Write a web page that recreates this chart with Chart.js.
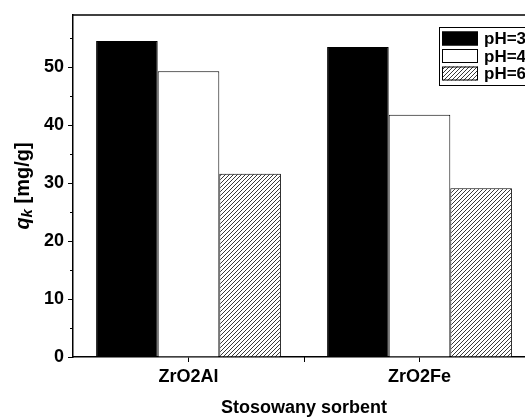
<!DOCTYPE html>
<html>
<head>
<meta charset="utf-8">
<script src="https://cdn.jsdelivr.net/npm/chart.js@4"></script>
<style>
  html, body { margin: 0; padding: 0; background: #fff; overflow: hidden; }
  #wrap { width: 540px; height: 419px; }
</style>
</head>
<body>
<div id="wrap"><canvas id="chart" width="540" height="419"></canvas></div>
<script>
// Données du graphique
const categories = ["ZrO2Al", "ZrO2Fe"];
const seriesLabels = ["pH=3", "pH=4", "pH=6"];
const valuesPh3 = [54.5, 53.5];
const valuesPh4 = [49.3, 41.8];
const valuesPh6 = [31.6, 29.1];
const yMajorTicks = [0, 10, 20, 30, 40, 50];
const yMinorTicks = [5, 15, 25, 35, 45, 55];

const FONT = "'Liberation Sans', Arial, sans-serif";

// Motif hachuré pour pH=6
function makeHatch() {
    const c = document.createElement("canvas");
    c.width = 4;
    c.height = 4;
    const g = c.getContext("2d");
    g.fillStyle = "#fff";
    g.fillRect(0, 0, 4, 4);
    g.strokeStyle = "#222";
    g.lineWidth = 0.9;
    g.beginPath();
    g.moveTo(-1, 5); g.lineTo(5, -1);
    g.moveTo(-1, 1); g.lineTo(1, -1);
    g.moveTo(3, 5); g.lineTo(5, 3);
    g.stroke();
    return g.createPattern(c, "repeat");
}
const hatch = makeHatch();

// Cadre, petites graduations, titre de l'axe Y et légende
const extras = {
    id: "extras",
    afterDraw(chart) {
        const ctx = chart.ctx;
        const area = chart.chartArea;
        const x = chart.scales.x;
        const y = chart.scales.y;
        ctx.save();
        ctx.strokeStyle = "#000";
        ctx.lineWidth = 1.5;
        // ligne du haut
        ctx.beginPath();
        ctx.moveTo(area.left, area.top);
        ctx.lineTo(area.right, area.top);
        ctx.stroke();
        // petites graduations Y
        ctx.lineWidth = 1;
        yMinorTicks.forEach(v => {
            const py = Math.round(y.getPixelForValue(v)) + 0.5;
            ctx.beginPath();
            ctx.moveTo(area.left - 3, py);
            ctx.lineTo(area.left, py);
            ctx.stroke();
        });
        // graduation entre les catégories
        for (let i = 0; i < categories.length - 1; i++) {
            const px = Math.round(x.getPixelForValue(i + 0.5)) + 0.5;
            ctx.beginPath();
            ctx.moveTo(px, area.bottom);
            ctx.lineTo(px, area.bottom + 5);
            ctx.stroke();
        }
        // titre Y : q_k [mg/g]
        ctx.translate(23, (area.top + area.bottom) / 2);
        ctx.rotate(-Math.PI / 2);
        ctx.fillStyle = "#000";
        ctx.textBaseline = "middle";
        const fq = "italic bold 20px " + FONT;
        const fk = "italic bold 15px " + FONT;
        const fr = "bold 20px " + FONT;
        ctx.font = fq; const wq = ctx.measureText("q").width;
        ctx.font = fk; const wk = ctx.measureText("k").width;
        ctx.font = fr; const wr = ctx.measureText(" [mg/g]").width;
        let tx = -(wq + wk + wr) / 2;
        ctx.font = fq; ctx.fillText("q", tx, 0); tx += wq;
        ctx.font = fk; ctx.fillText("k", tx, 5); tx += wk;
        ctx.font = fr; ctx.fillText(" [mg/g]", tx, 0);
        ctx.restore();

        // légende
        ctx.save();
        const lx = 439, ly = 27, lh = 58;
        ctx.fillStyle = "#fff";
        ctx.fillRect(lx, ly, 200, lh);
        ctx.strokeStyle = "#000";
        ctx.lineWidth = 1;
        ctx.strokeRect(lx + 0.5, ly + 0.5, 200, lh);
        chart.data.datasets.forEach((ds, i) => {
            const cy = ly + 11.5 + i * 17.5;
            ctx.fillStyle = ds.backgroundColor;
            ctx.fillRect(442, cy - 7, 36, 14);
            ctx.strokeStyle = "#000";
            ctx.strokeRect(442.5, cy - 6.5, 35, 13);
            ctx.fillStyle = "#000";
            ctx.font = "bold 17px " + FONT;
            ctx.textBaseline = "middle";
            ctx.fillText(ds.label, 484, cy + 1);
        });
        ctx.restore();
    }
};

const ctx = document.getElementById("chart").getContext("2d");
new Chart(ctx, {
    type: "bar",
    data: {
        labels: categories,
        datasets: [
            { label: seriesLabels[0], data: valuesPh3, backgroundColor: "#000", borderColor: "#000", borderWidth: 1 },
            { label: seriesLabels[1], data: valuesPh4, backgroundColor: "#fff", borderColor: "#000", borderWidth: 1 },
            { label: seriesLabels[2], data: valuesPh6, backgroundColor: hatch, borderColor: "#000", borderWidth: 1 }
        ]
    },
    options: {
        responsive: false,
        animation: false,
        events: [],
        layout: { padding: { top: 15, right: 5, left: 0, bottom: 0 } },
        datasets: { bar: { categoryPercentage: 0.8, barPercentage: 1 } },
        plugins: { legend: { display: false }, tooltip: { enabled: false } },
        scales: {
            x: {
                offset: true,
                grid: { display: true, offset: false, drawOnChartArea: false, tickLength: 5, color: "#000", tickWidth: 1 },
                border: { display: true, color: "#000", width: 1.5 },
                ticks: { color: "#000", padding: 4, font: { family: FONT, size: 18, weight: "bold" } },
                title: { display: true, text: "Stosowany sorbent", color: "#000",
                         font: { family: FONT, size: 18, weight: "bold" }, padding: { top: 0, bottom: 0 } },
                afterFit: s => { s.height = 62; }
            },
            y: {
                min: 0,
                max: 59,
                afterBuildTicks: s => { s.ticks = yMajorTicks.map(v => ({ value: v })); },
                grid: { display: true, drawOnChartArea: false, tickLength: 5, color: "#000", tickWidth: 1 },
                border: { display: true, color: "#000", width: 1.5 },
                ticks: { color: "#000", padding: 4, font: { family: FONT, size: 18, weight: "bold" } },
                afterFit: s => { s.width = 73; }
            }
        }
    },
    plugins: [extras]
});
</script>
</body>
</html>
